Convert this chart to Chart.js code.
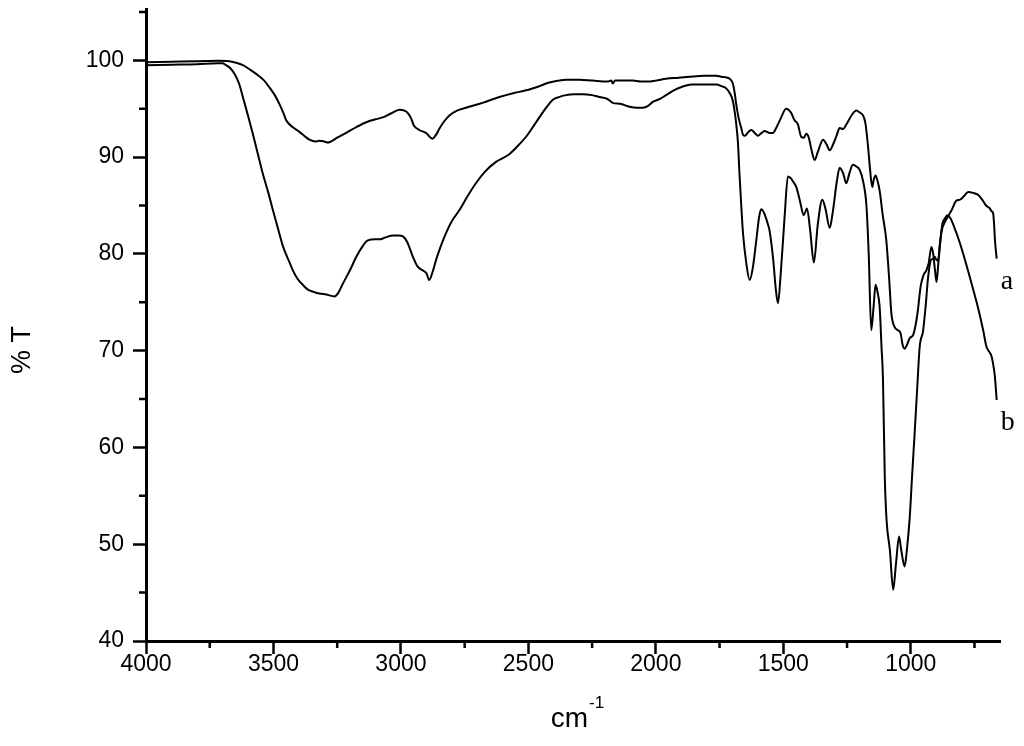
<!DOCTYPE html>
<html>
<head>
<meta charset="utf-8">
<script src="https://cdn.jsdelivr.net/npm/chart.js@4/dist/chart.umd.min.js"></script>
<style>
html,body{margin:0;padding:0;background:#fff;}
#wrap{width:1024px;height:746px;position:relative;}
</style>
</head>
<body>
<div id="wrap"><canvas id="c" width="1024" height="746"></canvas></div>
<script>
// ---- Data ----
const seriesNames = ['a', 'b'];
const waveA = [4000,3900,3800,3720,3673,3640,3620,3590,3568,3540,3516,3495,3477,3460,3450,3425,3398,3375,3359,3335,3320,3300,3287,3250,3215,3175,3136,3100,3071,3040,3005,2979,2960,2950,2928,2902,2876,2860,2850,2830,2810,2780,2745,2680,2614,2560,2509,2460,2418,2380,2353,2300,2248,2190,2175,2169,2160,2120,2090,2060,2038,2000,1960,1910,1868,1810,1763,1744,1720,1711,1698,1690,1685,1675,1665,1658,1650,1640,1626,1612,1600,1585,1573,1555,1540,1530,1510,1489,1470,1456,1443,1430,1420,1410,1400,1390,1377,1365,1344,1330,1318,1305,1290,1279,1266,1250,1230,1213,1200,1187,1178,1168,1160,1151,1145,1138,1130,1122,1110,1096,1085,1076,1069,1060,1050,1040,1032,1024,1015,1004,991,980,972,961,950,939,930,919,912,905,899,892,880,868,853,840,821,807,790,775,755,736,720,710,700,690,683,677,673,670,663];
const transA = [99.8,99.85,99.9,99.95,99.9,99.7,99.5,99.0,98.6,98.0,97.2,96.4,95.5,94.5,93.8,93.1,92.6,92.1,91.8,91.6,91.7,91.6,91.5,92.0,92.5,93.1,93.6,93.9,94.1,94.5,94.9,94.7,94.0,93.3,92.8,92.5,91.9,92.4,92.9,93.7,94.3,94.8,95.1,95.6,96.2,96.6,96.9,97.3,97.7,97.9,98.0,98.0,97.9,97.8,97.9,97.6,97.9,97.9,97.9,97.8,97.8,97.9,98.1,98.2,98.3,98.4,98.4,98.3,98.2,98.1,97.6,96.5,95.5,94.0,93.0,92.3,92.2,92.5,92.8,92.5,92.2,92.5,92.7,92.5,92.5,92.9,94.0,95.0,94.6,93.8,93.4,92.1,92.0,92.4,92.0,90.8,89.7,90.5,91.8,91.3,90.7,91.3,92.3,93.0,92.9,93.5,94.4,94.8,94.6,94.3,93.5,91.2,88.8,86.9,87.7,88.1,87.5,86.5,84.0,81.4,77.5,73.8,72.8,72.3,72.1,71.8,70.6,70.2,70.6,71.3,71.6,72.8,74.2,76.7,77.8,78.3,79.0,80.7,80.0,78.3,77.1,79.0,82.2,83.2,83.9,84.5,85.5,85.6,86.0,86.4,86.3,86.1,85.6,85.2,84.9,84.7,84.4,84.2,83.0,81.5,79.5];
const waveB = [4000,3900,3800,3720,3700,3686,3670,3653,3635,3620,3600,3581,3560,3542,3520,3502,3480,3463,3440,3424,3405,3385,3365,3345,3320,3293,3261,3245,3228,3200,3175,3150,3130,3100,3084,3060,3032,3010,2992,2975,2953,2935,2915,2900,2889,2875,2863,2845,2824,2800,2771,2740,2706,2670,2627,2600,2575,2540,2509,2480,2457,2430,2405,2380,2353,2320,2287,2250,2221,2190,2169,2140,2103,2075,2051,2030,2012,1985,1960,1930,1894,1860,1829,1790,1763,1740,1724,1710,1698,1685,1678,1672,1665,1658,1645,1632,1620,1606,1595,1587,1575,1562,1554,1540,1530,1521,1510,1495,1482,1470,1460,1449,1435,1420,1407,1395,1380,1365,1347,1335,1318,1305,1290,1279,1265,1253,1240,1227,1212,1201,1187,1174,1165,1155,1146,1138,1130,1122,1115,1109,1102,1095,1082,1069,1058,1046,1038,1024,1015,1004,995,985,975,965,952,942,932,920,910,906,900,893,886,876,865,857,845,830,807,780,755,735,716,703,690,683,675,670,663];
const transB = [99.5,99.55,99.6,99.7,99.7,99.5,99.2,98.6,97.6,96.2,94.3,92.4,90.2,88.3,86.3,84.5,82.4,80.8,79.3,78.3,77.4,76.8,76.3,76.1,75.9,75.8,75.6,76.0,76.9,78.3,79.7,80.8,81.4,81.5,81.5,81.7,81.9,81.9,81.8,81.2,79.7,78.7,78.3,78.0,77.3,78.2,79.3,80.7,82.1,83.4,84.5,85.9,87.3,88.5,89.5,89.9,90.3,91.2,92.1,93.2,94.1,95.1,95.9,96.2,96.4,96.5,96.5,96.4,96.2,96.0,95.6,95.5,95.2,95.1,95.1,95.3,95.7,96.0,96.4,96.9,97.3,97.5,97.5,97.5,97.5,97.3,97.1,96.6,95.8,93.5,91.5,88.3,85.0,82.1,79.0,77.3,78.5,81.4,83.8,84.6,84.2,83.2,82.4,79.5,76.5,74.9,78.0,83.8,88.0,87.8,87.4,86.9,85.5,84.0,84.7,82.5,79.1,83.0,85.6,84.7,82.7,84.5,87.5,88.9,88.3,87.3,88.4,89.2,89.0,88.7,87.5,85.0,80.0,72.1,74.5,76.8,76.0,74.5,70.5,67.0,57.0,52.5,49.4,45.3,48.0,50.8,49.5,47.7,49.5,52.8,57.0,61.4,66.0,70.4,72.0,74.5,77.6,79.4,79.5,79.7,79.4,79.3,81.0,83.1,83.7,84.0,83.7,82.8,81.1,78.7,76.3,74.3,72.1,70.4,69.8,69.4,68.3,67.3,64.9];
const xMajorTicks = [4000,3500,3000,2500,2000,1500,1000];
const xMinorTicks = [3750,3250,2750,2250,1750,1250,750];
const yMajorTicks = [40,50,60,70,80,90,100];
const yMinorTicks = [45,55,65,75,85,95,105];
const xTitle = 'cm', xTitleSup = '-1';
const yTitle = '% T';

function toPoints(xs, ys){ return xs.map((x,i)=>({x:x, y:ys[i]})); }

const SANS = '"Liberation Sans", Arial, sans-serif';

const minorTicksPlugin = {
  id:'minorTicks',
  afterDraw(chart){
    const ctx = chart.ctx, xs = chart.scales.x, ys = chart.scales.y;
    const area = chart.chartArea;
    ctx.save();
    ctx.strokeStyle = '#000';
    ctx.lineWidth = 2.5;
    ctx.beginPath();
    xMinorTicks.forEach(v=>{
      const px = xs.getPixelForValue(v);
      ctx.moveTo(px, area.bottom); ctx.lineTo(px, area.bottom + 7);
    });
    yMinorTicks.forEach(v=>{
      if (v > ys.max) return;
      const py = ys.getPixelForValue(v);
      ctx.moveTo(area.left, py); ctx.lineTo(area.left - 7, py);
    });
    ctx.stroke();
    // axis titles
    ctx.fillStyle = '#000';
    ctx.textBaseline = 'alphabetic';
    ctx.textAlign = 'left';
    ctx.font = '28px ' + SANS;
    const cmW = ctx.measureText(xTitle).width;
    ctx.font = '17px ' + SANS;
    const supW = ctx.measureText(xTitleSup).width;
    const cx = (area.left + area.right)/2 + 4;
    const startX = cx - (cmW + supW)/2;
    ctx.font = '28px ' + SANS;
    ctx.fillText(xTitle, startX, 727);
    ctx.font = '17px ' + SANS;
    ctx.fillText(xTitleSup, startX + cmW + 1, 708);
    ctx.save();
    ctx.translate(23, (area.top + area.bottom)/2 + 25);
    ctx.rotate(-Math.PI/2);
    ctx.font = '27px ' + SANS;
    ctx.textAlign = 'center';
    ctx.textBaseline = 'middle';
    ctx.fillText(yTitle, 0, 0);
    ctx.restore();
    // series labels at curve ends
    ctx.font = '28px "Liberation Serif", "Times New Roman", serif';
    ctx.textAlign = 'left';
    ctx.textBaseline = 'middle';
    chart.data.datasets.forEach((ds, i)=>{
      const last = ds.data[ds.data.length-1];
      const px = xs.getPixelForValue(last.x), py = ys.getPixelForValue(last.y);
      ctx.fillText(seriesNames[i], px + 4, py + 23);
    });
    ctx.restore();
  }
};

const commonDs = {borderColor:'#000', borderWidth:2, pointRadius:0, fill:false, cubicInterpolationMode:'monotone'};

new Chart(document.getElementById('c'), {
  type:'line',
  data:{
    datasets:[
      Object.assign({label:seriesNames[0], data:toPoints(waveA, transA)}, commonDs),
      Object.assign({label:seriesNames[1], data:toPoints(waveB, transB)}, commonDs)
    ]
  },
  options:{
    responsive:false,
    animation:false,
    devicePixelRatio:1,
    layout:{padding:{left:0, right:24, top:9, bottom:0}},
    plugins:{legend:{display:false}, tooltip:{enabled:false}},
    scales:{
      x:{
        type:'linear', reverse:true, min:650, max:4000,
        afterFit(s){ s.height = 105; s.paddingLeft = 0; s.paddingRight = 0; },
        afterBuildTicks(s){ s.ticks = xMajorTicks.map(v=>({value:v})); },
        border:{display:true, color:'#000', width:3},
        grid:{display:true, drawOnChartArea:false, drawTicks:true, tickLength:13, tickWidth:2.5, tickColor:'#000'},
        ticks:{color:'#000', font:{family:SANS, size:23}, padding:-3, maxRotation:0, autoSkip:false, callback:v=>String(v)}
      },
      y:{
        type:'linear', min:40, max:105.3,
        afterFit(s){ s.width = 146; s.paddingTop = 0; s.paddingBottom = 0; },
        afterBuildTicks(s){ s.ticks = yMajorTicks.map(v=>({value:v})); },
        border:{display:true, color:'#000', width:3},
        grid:{display:true, drawOnChartArea:false, drawTicks:true, tickLength:13, tickWidth:2.5, tickColor:'#000'},
        ticks:{color:'#000', font:{family:SANS, size:23}, padding:9, autoSkip:false, callback:v=>String(v)}
      }
    }
  },
  plugins:[minorTicksPlugin]
});
</script>
</body>
</html>
